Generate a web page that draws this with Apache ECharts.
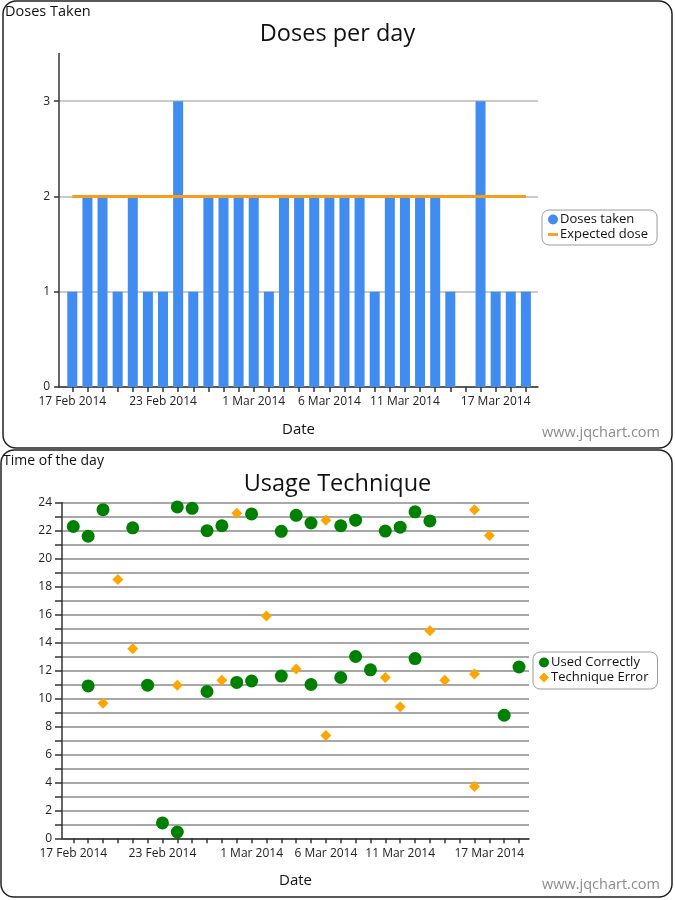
<!DOCTYPE html>
<html>
<head>
<meta charset="utf-8">
<script src="https://cdn.jsdelivr.net/npm/echarts@6/dist/echarts.min.js"></script>
<style>html,body{margin:0;padding:0;background:#fff;}#c{width:675px;height:900px;}</style>
</head>
<body>
<div id="c"></div>
<script>
// Days from 17 Feb 2014 (index 0) to 19 Mar 2014 (index 30)
const dates = ['17 Feb 2014','18 Feb 2014','19 Feb 2014','20 Feb 2014','21 Feb 2014','22 Feb 2014','23 Feb 2014',
  '24 Feb 2014','25 Feb 2014','26 Feb 2014','27 Feb 2014','28 Feb 2014','1 Mar 2014','2 Mar 2014','3 Mar 2014',
  '4 Mar 2014','5 Mar 2014','6 Mar 2014','7 Mar 2014','8 Mar 2014','9 Mar 2014','10 Mar 2014','11 Mar 2014',
  '12 Mar 2014','13 Mar 2014','14 Mar 2014','15 Mar 2014','16 Mar 2014','17 Mar 2014','18 Mar 2014','19 Mar 2014'];
const labelDays = [0, 6, 12, 17, 22, 28];

const dosesTaken = [1,2,2,1,2,1,1,3,1,2,2,2,2,1,2,2,2,2,2,2,1,2,2,2,2,1,0,3,1,1,1];
const expectedDose = [2,2,2,2,2,2,2,2,2,2,2,2,2,2,2,2,2,2,2,2,2,2,2,2,2,2,2,2,2,2,2];
const doseTicks = [0, 1, 2, 3];

// [day index, time of day]
const usedCorrectly = [
  [0,22.3],[1,21.6],[1,10.9],[2,23.5],[4,22.2],[5,10.95],[6,1.1],[7,23.7],[7,0.45],[8,23.6],
  [9,22.0],[9,10.5],[10,22.35],[11,11.15],[12,23.2],[12,11.25],[14,21.95],[14,11.6],[15,23.1],
  [16,22.55],[16,11.0],[18,22.35],[18,11.5],[19,22.75],[19,13.0],[20,12.05],[21,21.97],[22,22.25],
  [23,23.35],[23,12.85],[24,22.7],[29,8.8],[30,12.25]
];
const techniqueError = [
  [2,9.65],[3,18.5],[4,13.55],[7,10.95],[10,11.3],[11,23.25],[13,15.9],[15,12.1],[17,22.75],[17,7.35],
  [21,11.5],[22,9.4],[24,14.85],[25,11.3],[27,23.5],[27,11.75],[27,3.7],[28,21.65]
];
const timeLabels = [0,2,4,6,8,10,12,14,16,18,20,22,24];

const FONT = 'Segoe UI, "Open Sans", sans-serif';
const allDays = dates.map((d, i) => i);

const chart = echarts.init(document.getElementById('c'), null, {renderer: 'canvas'});
const xLabelFmt = v => dates[Math.round(v)] || '';

chart.setOption({
  animation: false,
  textStyle: {fontFamily: FONT},
  title: [
    {text: 'Doses per day', left: 'center', top: 22, padding: 0, textStyle: {fontSize: 23.5, fontWeight: 'normal', color: '#111', fontFamily: FONT}},
    {text: 'Doses Taken', left: 5, top: 4, padding: 0, textStyle: {fontSize: 14.5, fontWeight: 'normal', color: '#111', fontFamily: FONT}},
    {text: 'www.jqchart.com', right: 15, top: 425, padding: 0, textStyle: {fontSize: 14.5, fontWeight: 'normal', color: '#8c8c8c', fontFamily: FONT}},
    {text: 'Usage Technique', left: 'center', top: 472, padding: 0, textStyle: {fontSize: 23.5, fontWeight: 'normal', color: '#111', fontFamily: FONT}},
    {text: 'Time of the day', left: 3, top: 454, padding: 0, textStyle: {fontSize: 14, fontWeight: 'normal', color: '#111', fontFamily: FONT}},
    {text: 'www.jqchart.com', right: 15, top: 877, padding: 0, textStyle: {fontSize: 14.5, fontWeight: 'normal', color: '#8c8c8c', fontFamily: FONT}}
  ],
  legend: [
    {
      orient: 'vertical', left: 542, top: 210,
      data: [
        {name: 'Doses taken', icon: 'circle'},
        {name: 'Expected dose', icon: 'path://M0,0M0,3.6L10,3.6L10,6.4L0,6.4ZM10,10'}
      ],
      itemWidth: 10, itemHeight: 10, itemGap: 2,
      borderColor: '#9a9a9a', borderWidth: 1, borderRadius: 7,
      padding: [3, 9, 4, 6],
      textStyle: {fontSize: 13, color: '#111', fontFamily: FONT, padding: [0, 0, 0, -3]}
    },
    {
      orient: 'vertical', left: 533, top: 652,
      data: [
        {name: 'Used Correctly', icon: 'circle'},
        {name: 'Technique Error', icon: 'diamond'}
      ],
      itemWidth: 10, itemHeight: 10, itemGap: 2,
      borderColor: '#9a9a9a', borderWidth: 1, borderRadius: 7,
      padding: [4, 9, 5, 6],
      textStyle: {fontSize: 13, color: '#111', fontFamily: FONT, padding: [0, 0, 0, -3]}
    }
  ],
  grid: [
    {left: 59, top: 53.5, width: 479, height: 333.5},
    {left: 62, top: 502.7, width: 467, height: 335.6}
  ],
  xAxis: [
    {
      gridIndex: 0, type: 'value', min: -0.88, max: 30.8,
      name: 'Date', nameLocation: 'middle', nameGap: 35,
      nameTextStyle: {fontSize: 15, color: '#111', fontFamily: FONT},
      axisLine: {onZero: false, lineStyle: {color: '#333', width: 1.5}},
      axisTick: {show: true, customValues: allDays, length: 5, lineStyle: {color: '#333', width: 1.5}},
      axisLabel: {customValues: labelDays, formatter: xLabelFmt, fontSize: 12, color: '#222', margin: 9, fontFamily: FONT},
      splitLine: {show: false}
    },
    {
      gridIndex: 1, type: 'value', min: -0.76, max: 30.67,
      name: 'Date', nameLocation: 'middle', nameGap: 35,
      nameTextStyle: {fontSize: 15, color: '#111', fontFamily: FONT},
      axisLine: {onZero: false, lineStyle: {color: '#333', width: 1.5}},
      axisTick: {show: true, customValues: allDays, length: 5, lineStyle: {color: '#333', width: 1.5}},
      axisLabel: {customValues: labelDays, formatter: xLabelFmt, fontSize: 12, color: '#222', margin: 9, fontFamily: FONT},
      splitLine: {show: false}
    }
  ],
  yAxis: [
    {
      gridIndex: 0, type: 'value', min: 0, max: 3.5,
      axisLine: {show: true, onZero: false, lineStyle: {color: '#333', width: 1.5}},
      axisTick: {show: true, customValues: doseTicks, length: 5, lineStyle: {color: '#333', width: 1.5}},
      axisLabel: {customValues: doseTicks, fontSize: 12, color: '#222', margin: 9, fontFamily: FONT},
      splitLine: {show: true, lineStyle: {color: '#b8b8b8', width: 1.5}}
    },
    {
      gridIndex: 1, type: 'value', min: 0, max: 24, interval: 1,
      axisLine: {show: true, onZero: false, lineStyle: {color: '#333', width: 1.5}},
      axisTick: {show: true, length: 7, lineStyle: {color: '#333', width: 1.5}},
      axisLabel: {customValues: timeLabels, fontSize: 12, color: '#222', margin: 10, fontFamily: FONT},
      splitLine: {show: true, lineStyle: {color: '#a8a8a8', width: 2}}
    }
  ],
  series: [
    {
      name: 'Doses taken', type: 'bar', xAxisIndex: 0, yAxisIndex: 0,
      barWidth: 10, itemStyle: {color: '#418CF0'},
      data: dosesTaken.map((v, i) => [i, v]), z: 2
    },
    {
      name: 'Expected dose', type: 'line', xAxisIndex: 0, yAxisIndex: 0,
      showSymbol: false, symbol: 'none', lineStyle: {color: '#F99B1C', width: 3}, itemStyle: {color: '#F99B1C'},
      data: expectedDose.map((v, i) => [i, v]), z: 3
    },
    {
      name: 'Used Correctly', type: 'scatter', xAxisIndex: 1, yAxisIndex: 1,
      symbol: 'circle', symbolSize: 13, itemStyle: {color: '#008000', opacity: 1},
      data: usedCorrectly
    },
    {
      name: 'Technique Error', type: 'scatter', xAxisIndex: 1, yAxisIndex: 1,
      symbol: 'diamond', symbolSize: 11, itemStyle: {color: '#FFA500', opacity: 1},
      data: techniqueError
    }
  ],
  graphic: [
    {type: 'rect', shape: {x: 3, y: 1, width: 669, height: 447, r: 13}, style: {fill: 'none', stroke: '#222', lineWidth: 1.5}, silent: true},
    {type: 'rect', shape: {x: 1, y: 450, width: 671, height: 447, r: 13}, style: {fill: 'none', stroke: '#222', lineWidth: 1.5}, silent: true}
  ]
});
</script>
</body>
</html>
